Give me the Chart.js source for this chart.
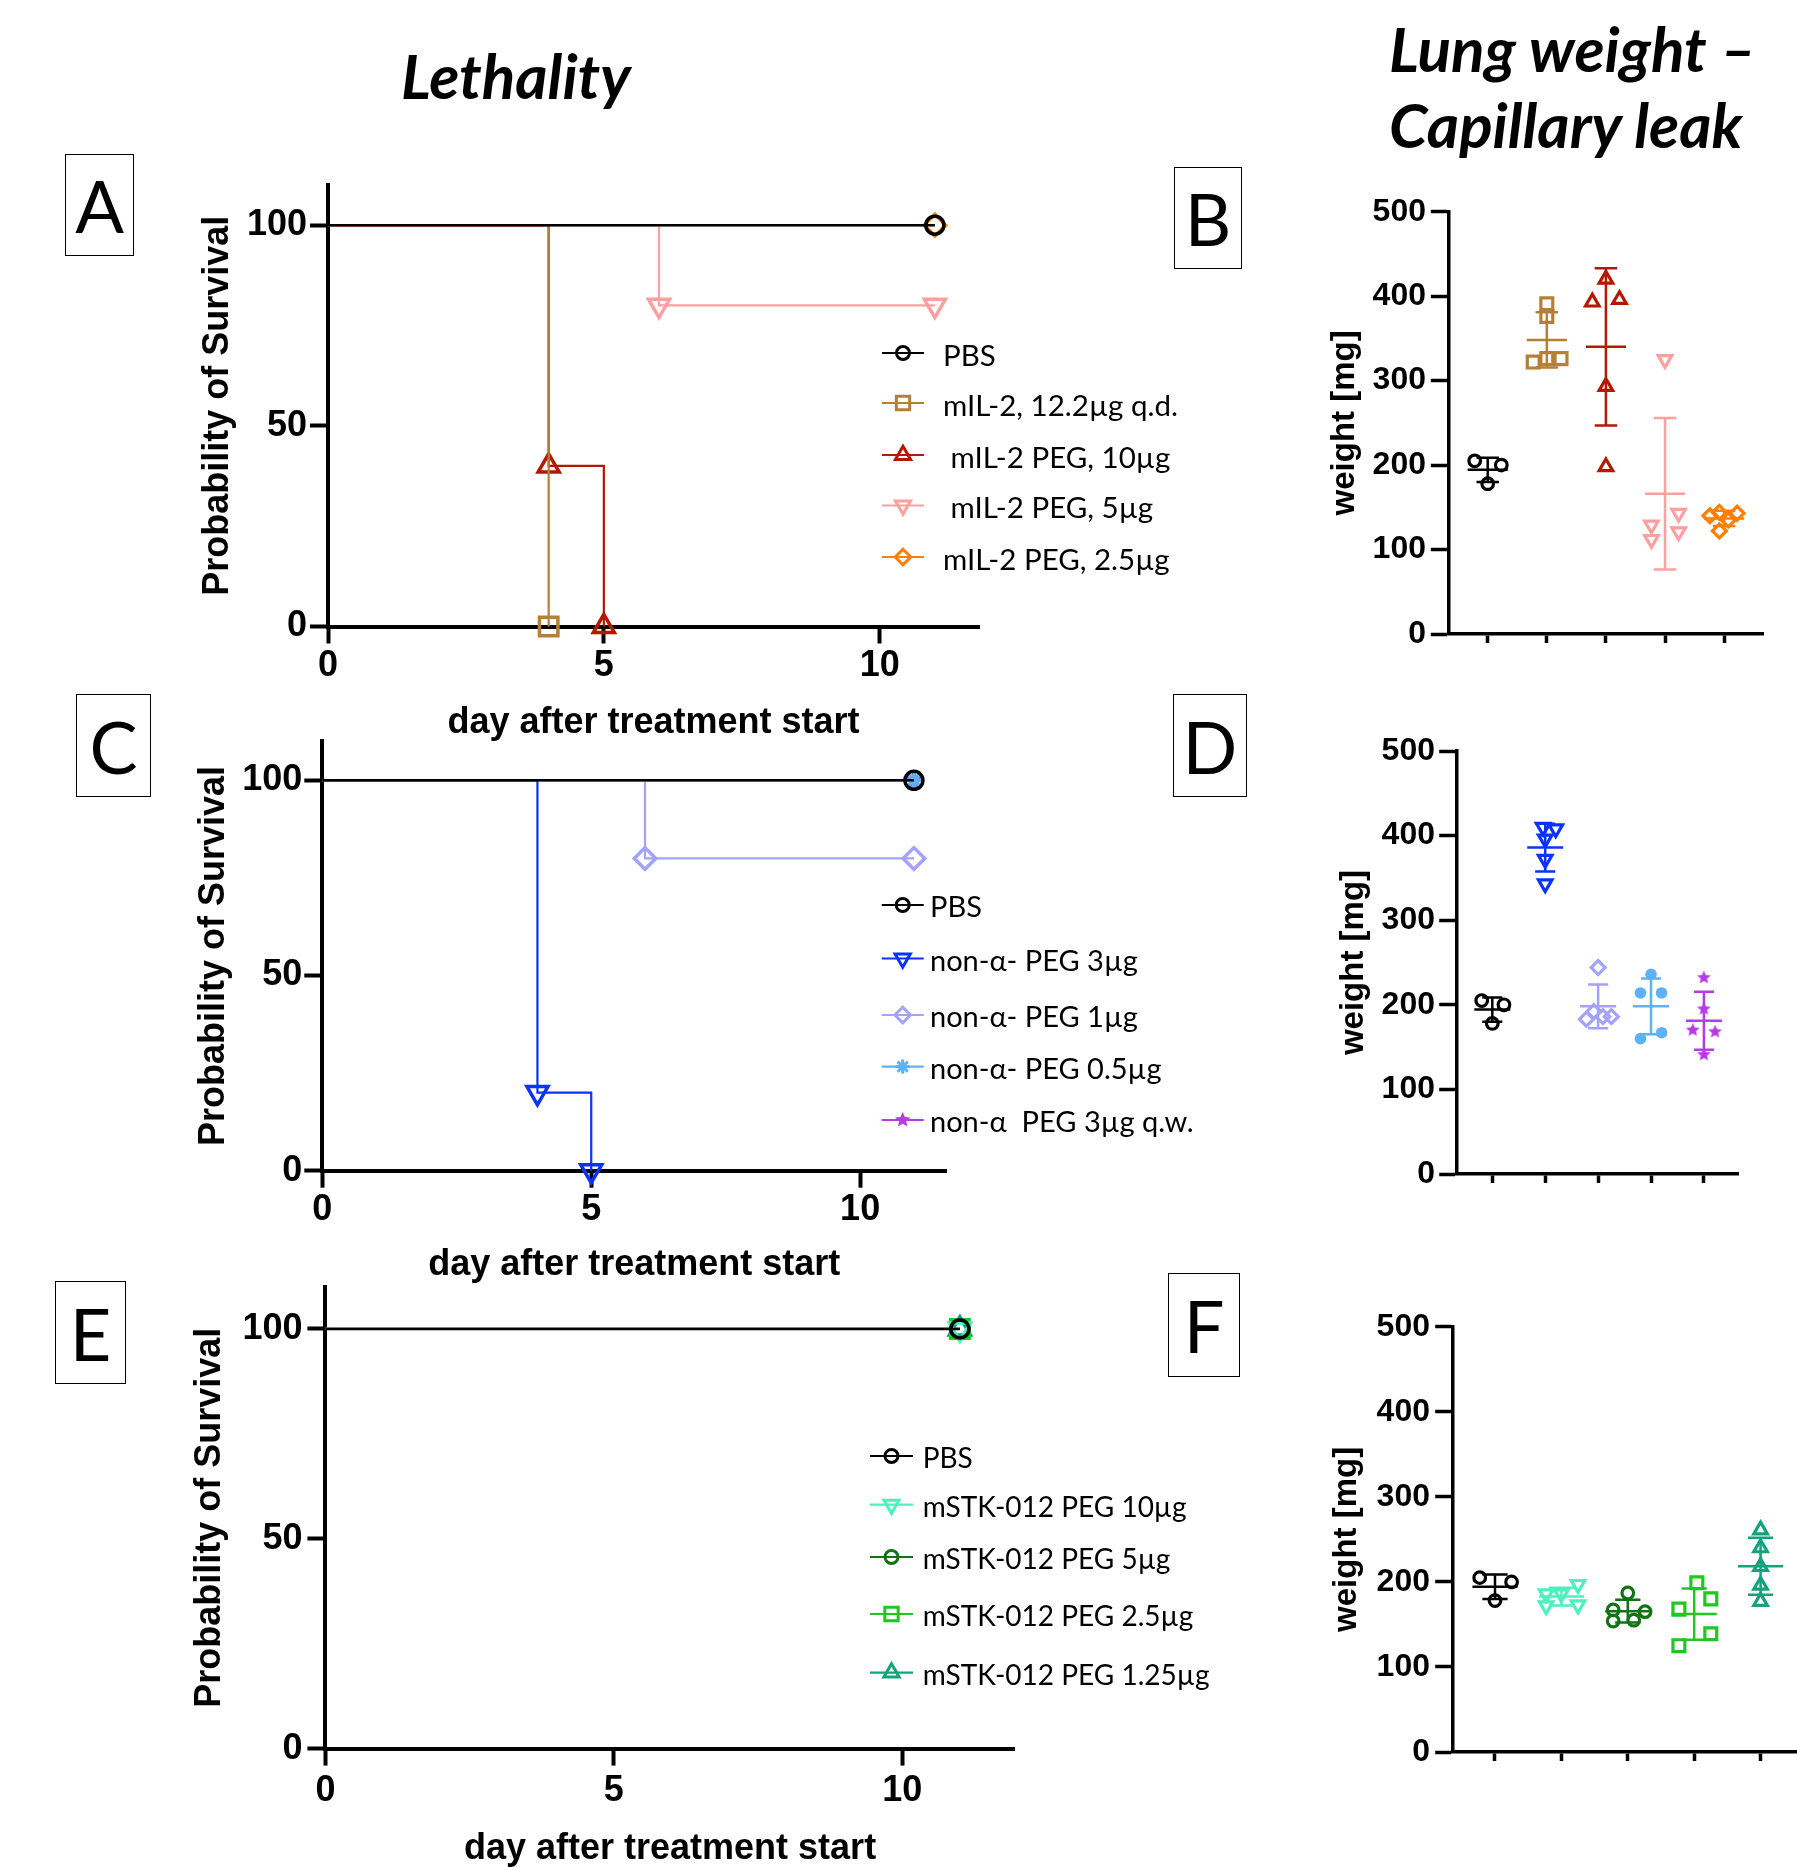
<!DOCTYPE html>
<html lang="en">
<head>
<meta charset="utf-8">
<title>Lethality / Lung weight</title>
<script src="https://cdn.jsdelivr.net/npm/chart.js@4.4.1/dist/chart.umd.min.js"></script>
<style>
  html, body { margin: 0; padding: 0; background: #fff; }
  body { position: relative; width: 1797px; height: 1867px; overflow: hidden; }
  canvas { position: absolute; }
  .tag { position: absolute; box-sizing: border-box; border: 1.5px solid #000; display: flex; align-items: center; justify-content: center; font: 400 72px Lato, sans-serif; line-height: 1; color: #000; }
  .head { position: absolute; font: italic 700 62px Lato, sans-serif; line-height: 1; white-space: nowrap; color: #000; }
</style>
</head>
<body>
<div class="head" style="left:401px; top:44px;">Lethality</div>
<div class="head" style="left:1389px; top:17px;">Lung weight –</div>
<div class="head" style="left:1389px; top:93px;">Capillary leak</div>
<div class="tag" style="left:65px; top:154px; width:69px; height:102px;">A</div>
<div class="tag" style="left:1174px; top:167px; width:68px; height:102px;">B</div>
<div class="tag" style="left:76px; top:694px; width:75px; height:103px;">C</div>
<div class="tag" style="left:1173px; top:694px; width:74px; height:103px;">D</div>
<div class="tag" style="left:55px; top:1281px; width:71px; height:103px;">E</div>
<div class="tag" style="left:1168px; top:1273px; width:72px; height:104px;">F</div>

<script>
// 生存曲線 A (日, 生存率 %)
const survA_PBS = [[0, 100], [11, 100]];
const survA_mIL2 = [[0, 100], [4, 0]];
const survA_peg10 = [[0, 100], [4, 40], [5, 0]];
const survA_peg5 = [[0, 100], [6, 80], [11, 80]];
const survA_peg25 = [[0, 100], [11, 100]];
const labelsA = ['PBS', 'mIL-2, 12.2µg q.d.', ' mIL-2 PEG, 10µg', ' mIL-2 PEG, 5µg', 'mIL-2 PEG, 2.5µg'];

// 生存曲線 C
const survC_PBS = [[0, 100], [11, 100]];
const survC_3 = [[0, 100], [4, 20], [5, 0]];
const survC_1 = [[0, 100], [6, 80], [11, 80]];
const survC_05 = [[0, 100], [11, 100]];
const survC_3qw = [[0, 100], [11, 100]];
const labelsC = ['PBS', 'non-α- PEG 3µg', 'non-α- PEG 1µg', 'non-α- PEG 0.5µg', 'non-α  PEG 3µg q.w.'];

// 生存曲線 E
const survE_PBS = [[0, 100], [11, 100]];
const survE_10 = [[0, 100], [11, 100]];
const survE_5 = [[0, 100], [11, 100]];
const survE_25 = [[0, 100], [11, 100]];
const survE_125 = [[0, 100], [11, 100]];
const labelsE = ['PBS', 'mSTK-012 PEG 10µg', 'mSTK-012 PEG 5µg', 'mSTK-012 PEG 2.5µg', 'mSTK-012 PEG 1.25µg'];

// 肺重量 [mg]
const lungB_PBS = [205, 200, 178];
const lungB_mIL2 = [391, 376, 322, 326, 326];
const lungB_peg10 = [420, 396, 393, 293, 198];
const lungB_peg5 = [325, 129, 112, 143, 121];
const lungB_peg25 = [140, 144, 143, 135, 122];

const lungD_PBS = [205, 200, 178];
const lungD_3 = [410, 408, 396, 372, 343];
const lungD_1 = [244, 183, 192, 186, 186];
const lungD_05 = [236, 214, 214, 160, 167];
const lungD_3qw = [232, 195, 170, 168, 141];

const lungF_PBS = [205, 200, 178];
const lungF_10 = [186, 186, 197, 172, 173];
const lungF_5 = [187, 167, 165, 154, 155];
const lungF_25 = [199, 180, 168, 139, 125];
const lungF_125 = [261, 240, 218, 196, 177];

// 目盛り
const survTicks = [0, 50, 100];
const dayTicks = [0, 5, 10];
const weightTicks = [0, 100, 200, 300, 400, 500];

// 点の横方向の散らし (カテゴリ単位, レイアウト用)
const spreadB = [[-0.22, 0.23, 0], [0, 0, -0.23, 0, 0.24], [0, 0.23, -0.23, 0, 0], [0, -0.23, -0.23, 0.23, 0.23], [-0.24, -0.08, 0.22, 0.07, -0.08]];
const spreadD = [[-0.2, 0.22, 0], [-0.04, 0.2, 0, 0, 0], [0, -0.22, -0.08, 0.09, 0.25], [0, -0.2, 0.2, -0.2, 0.2], [0, 0, -0.21, 0.21, 0]];
const spreadF = [[-0.23, 0.25, 0], [-0.23, 0, 0.25, -0.23, 0.25], [0, -0.22, 0.26, -0.22, 0.09], [0.04, 0.25, -0.23, 0.25, -0.23], [0, 0, 0, 0, 0]];

// スタイル
const styleA = [
    { color: '#000000', marker: 'circle' },
    { color: '#b38036', marker: 'rect' },
    { color: '#b21a00', marker: 'triangle' },
    { color: '#ff9f9f', marker: 'triangleDown' },
    { color: '#ff7f00', marker: 'rectRot' }
];
const styleC = [
    { color: '#000000', marker: 'circle' },
    { color: '#0a33ff', marker: 'triangleDown' },
    { color: '#a3a3ff', marker: 'rectRot' },
    { color: '#5fb1f5', marker: 'asterisk', filled: true },
    { color: '#b43ce3', marker: 'star5', filled: true }
];
const styleD = [
    { color: '#000000', marker: 'circle' },
    { color: '#0a33ff', marker: 'triangleDown' },
    { color: '#a3a3ff', marker: 'rectRot' },
    { color: '#5fb1f5', marker: 'circle', filled: true },
    { color: '#b43ce3', marker: 'star5', filled: true }
];
const styleE = [
    { color: '#000000', marker: 'circle' },
    { color: '#4ef0bd', marker: 'triangleDown' },
    { color: '#117311', marker: 'circle' },
    { color: '#1ec81e', marker: 'rect' },
    { color: '#12a37c', marker: 'triangle' }
];

const sansBold = "'Liberation Sans', Arial, sans-serif";
const kmFont = { family: sansBold, weight: 'bold', size: 36, lineHeight: 1.2 };
const wTickFont = { family: sansBold, weight: 'bold', size: 32, lineHeight: 1.2 };
const wTitleFont = { family: sansBold, weight: 'bold', size: 33, lineHeight: 1.2 };

const radiusFactor = { circle: 1, rect: 1.45, triangle: 1.35, triangleDown: 1.35, rectRot: 1.2, asterisk: 1.1, star5: 1.25 };

// マーカー描画 (凡例・星形画像用)
function drawMarker(ctx, marker, x, y, r, color, filled, lw) {
    ctx.save();
    ctx.strokeStyle = color;
    ctx.fillStyle = color;
    ctx.lineWidth = lw;
    ctx.lineJoin = 'miter';
    ctx.beginPath();
    if (marker === 'circle') {
        ctx.arc(x, y, r, 0, Math.PI * 2);
    } else if (marker === 'rect') {
        const s = r * Math.SQRT1_2;
        ctx.rect(x - s, y - s, 2 * s, 2 * s);
    } else if (marker === 'triangle' || marker === 'triangleDown') {
        const d = marker === 'triangle' ? 1 : -1;
        ctx.moveTo(x, y - d * r);
        ctx.lineTo(x + r * 0.866, y + d * r * 0.5);
        ctx.lineTo(x - r * 0.866, y + d * r * 0.5);
        ctx.closePath();
    } else if (marker === 'rectRot') {
        ctx.moveTo(x, y - r);
        ctx.lineTo(x + r, y);
        ctx.lineTo(x, y + r);
        ctx.lineTo(x - r, y);
        ctx.closePath();
    } else if (marker === 'asterisk') {
        for (let k = 0; k < 4; k++) {
            const a = k * Math.PI / 4;
            ctx.moveTo(x - Math.cos(a) * r, y - Math.sin(a) * r);
            ctx.lineTo(x + Math.cos(a) * r, y + Math.sin(a) * r);
        }
        ctx.lineWidth = Math.max(lw, 3);
        ctx.stroke();
        ctx.restore();
        return;
    } else if (marker === 'star5') {
        for (let k = 0; k < 10; k++) {
            const a = -Math.PI / 2 + k * Math.PI / 5;
            const rr = k % 2 === 0 ? r : r * 0.45;
            const px = x + Math.cos(a) * rr, py = y + Math.sin(a) * rr;
            if (k === 0) ctx.moveTo(px, py); else ctx.lineTo(px, py);
        }
        ctx.closePath();
    }
    if (filled) ctx.fill(); else ctx.stroke();
    ctx.restore();
}

function starImage(r, color) {
    const c = document.createElement('canvas');
    const s = Math.ceil(2 * r + 4);
    c.width = s;
    c.height = s;
    drawMarker(c.getContext('2d'), 'star5', s / 2, s / 2, r, color, true, 1);
    return c;
}

function pointStyleOf(st, r) {
    if (st.marker === 'triangleDown') return 'triangle';
    if (st.marker === 'asterisk') return 'star';
    if (st.marker === 'star5') return starImage(r, st.color);
    return st.marker;
}

function makeCanvas(id, geo) {
    const c = document.createElement('canvas');
    c.id = id;
    c.width = geo.width;
    c.height = geo.height;
    c.style.left = geo.left + 'px';
    c.style.top = geo.top + 'px';
    document.body.appendChild(c);
    return c;
}

// 生存曲線の凡例 (プロット内に描画)
const kmLegend = {
    id: 'kmLegend',
    afterDraw(chart, args, opts) {
        const ctx = chart.ctx;
        chart.data.datasets.forEach((ds, i) => {
            const y = opts.rows[i];
            ctx.save();
            ctx.strokeStyle = ds.borderColor;
            ctx.lineWidth = 2.2;
            ctx.beginPath();
            ctx.moveTo(opts.x - opts.half, y);
            ctx.lineTo(opts.x + opts.half, y);
            ctx.stroke();
            drawMarker(ctx, ds.marker, opts.x, y, 6.5 * radiusFactor[ds.marker], ds.borderColor, ds.filled, 3);
            ctx.fillStyle = '#000';
            ctx.font = opts.font;
            ctx.textBaseline = 'middle';
            ctx.fillText(ds.label, opts.textX, y + 3);
            ctx.restore();
        });
    }
};

// 平均 ± SD
const meanSd = {
    id: 'meanSd',
    afterDatasetsDraw(chart) {
        const { ctx, scales: { x, y } } = chart;
        chart.data.datasets.forEach((ds, g) => {
            const v = ds.data.map(p => p.y);
            const n = v.length;
            const m = v.reduce((a, b) => a + b, 0) / n;
            const sd = Math.sqrt(v.reduce((a, b) => a + (b - m) ** 2, 0) / (n - 1));
            const px = x.getPixelForValue(g);
            const hw = x.getPixelForValue(g + 0.34) - px;
            const cw = x.getPixelForValue(g + 0.19) - px;
            const yT = y.getPixelForValue(m + sd), yB = y.getPixelForValue(m - sd), yM = y.getPixelForValue(m);
            ctx.save();
            ctx.strokeStyle = ds.borderColor;
            ctx.lineWidth = 2.5;
            ctx.beginPath();
            ctx.moveTo(px - hw, yM); ctx.lineTo(px + hw, yM);
            ctx.moveTo(px, yT); ctx.lineTo(px, yB);
            ctx.moveTo(px - cw, yT); ctx.lineTo(px + cw, yT);
            ctx.moveTo(px - cw, yB); ctx.lineTo(px + cw, yB);
            ctx.stroke();
            ctx.restore();
        });
    }
};

function kmChart(id, series, labels, styles, geo) {
    const r0 = 9;
    return new Chart(makeCanvas(id, geo), {
        type: 'line',
        data: {
            datasets: series.map((pts, i) => {
                const st = styles[i];
                const r = r0 * radiusFactor[st.marker];
                return {
                    label: labels[i],
                    data: pts.map(([x, y]) => ({ x, y })),
                    borderColor: st.color,
                    backgroundColor: st.color,
                    borderWidth: i === 0 ? 2.5 : 2.2,
                    stepped: 'before',
                    fill: false,
                    pointStyle: pointStyleOf(st, r),
                    pointRotation: st.marker === 'triangleDown' ? 180 : 0,
                    pointRadius: pts.map((p, j) => j === 0 ? 0 : r),
                    pointBorderColor: st.color,
                    pointBackgroundColor: st.filled ? st.color : 'rgba(0,0,0,0)',
                    pointBorderWidth: 3.5,
                    clip: false,
                    marker: st.marker,
                    filled: st.filled
                };
            })
        },
        options: {
            animation: false,
            responsive: false,
            events: [],
            layout: { padding: { left: 0, top: geo.padTop, right: geo.padRight, bottom: 0 } },
            plugins: {
                legend: { display: false },
                tooltip: { enabled: false },
                kmLegend: geo.legend
            },
            scales: {
                x: {
                    type: 'linear',
                    min: 0,
                    max: geo.xMax,
                    afterBuildTicks: s => { s.ticks = dayTicks.map(v => ({ value: v })); },
                    afterFit: s => { s.height = geo.xH; },
                    grid: { drawOnChartArea: false, tickLength: 17, tickWidth: 4, tickColor: '#000' },
                    border: { color: '#000', width: 4 },
                    ticks: { color: '#000', font: kmFont, padding: geo.xTickPad, maxRotation: 0, autoSkip: false },
                    title: { display: true, text: 'day after treatment start', color: '#000', font: kmFont, padding: { top: 0, bottom: geo.xTitlePad } }
                },
                y: {
                    min: 0,
                    max: 110,
                    afterBuildTicks: s => { s.ticks = survTicks.map(v => ({ value: v })); },
                    afterFit: s => { s.width = geo.yW; },
                    grid: { drawOnChartArea: false, tickLength: 18, tickWidth: 4, tickColor: '#000' },
                    border: { color: '#000', width: 4 },
                    ticks: { color: '#000', font: kmFont, padding: geo.yTickPad, autoSkip: false },
                    title: { display: true, text: 'Probability of Survival', color: '#000', font: kmFont, padding: { top: geo.yTitlePad, bottom: 0 } }
                }
            }
        },
        plugins: [kmLegend]
    });
}

function weightChart(id, groups, spreads, styles, geo) {
    const r0 = 5.8;
    return new Chart(makeCanvas(id, geo), {
        type: 'scatter',
        data: {
            datasets: groups.map((vals, g) => {
                const st = styles[g];
                const r = r0 * radiusFactor[st.marker];
                return {
                    data: vals.map((v, i) => ({ x: g + spreads[g][i], y: v })),
                    borderColor: st.color,
                    backgroundColor: st.color,
                    pointStyle: pointStyleOf(st, r),
                    pointRotation: st.marker === 'triangleDown' ? 180 : 0,
                    pointRadius: r,
                    pointBorderColor: st.color,
                    pointBackgroundColor: st.filled ? st.color : 'rgba(0,0,0,0)',
                    pointBorderWidth: st.filled ? 0 : 3.2,
                    clip: false
                };
            })
        },
        options: {
            animation: false,
            responsive: false,
            events: [],
            layout: { padding: { left: 0, top: geo.padTop, right: geo.padRight, bottom: 0 } },
            plugins: { legend: { display: false }, tooltip: { enabled: false } },
            scales: {
                x: {
                    type: 'linear',
                    min: geo.xMin,
                    max: geo.xMax,
                    afterBuildTicks: s => { s.ticks = groups.map((_, g) => ({ value: g })); },
                    afterFit: s => { s.height = 25; },
                    grid: { drawOnChartArea: false, tickLength: 9, tickWidth: 3.5, tickColor: '#000' },
                    border: { color: '#000', width: 3.5 },
                    ticks: { display: false }
                },
                y: {
                    min: 0,
                    max: 500,
                    afterBuildTicks: s => { s.ticks = weightTicks.map(v => ({ value: v })); },
                    afterFit: s => { s.width = geo.yW; },
                    grid: { drawOnChartArea: false, tickLength: 17.5, tickWidth: 3.5, tickColor: '#000' },
                    border: { color: '#000', width: 3.5 },
                    ticks: { color: '#000', font: wTickFont, padding: geo.yTickPad, autoSkip: false },
                    title: { display: true, text: 'weight [mg]', color: '#000', font: wTitleFont, padding: { top: geo.yTitlePad, bottom: 0 } }
                }
            }
        },
        plugins: [meanSd]
    });
}

kmChart('chartA', [survA_PBS, survA_mIL2, survA_peg10, survA_peg5, survA_peg25], labelsA, styleA, {
    left: 150, top: 150, width: 1060, height: 620,
    yW: 178, padTop: 35, padRight: 231, xH: 143.5, xMax: 11.8,
    yTitlePad: 46.4, yTickPad: 3, xTickPad: 1, xTitlePad: 25.4,
    legend: { x: 753, half: 21, textX: 793, rows: [203, 253, 305, 355.5, 407], font: '29.5px Lato, sans-serif' }
});

kmChart('chartC', [survC_PBS, survC_3, survC_1, survC_05, survC_3qw], labelsC, styleC, {
    left: 150, top: 700, width: 1060, height: 610,
    yW: 172.3, padTop: 41.3, padRight: 263.8, xH: 139.3, xMax: 11.6,
    yTitlePad: 42.8, yTickPad: 2, xTickPad: 1, xTitlePad: 23.4,
    legend: { x: 752.7, half: 21, textX: 780, rows: [205, 258.5, 315, 366.7, 420], font: '29px Lato, sans-serif' }
});

kmChart('chartE', [survE_PBS, survE_10, survE_5, survE_25, survE_125], labelsE, styleE, {
    left: 150, top: 1250, width: 1120, height: 640,
    yW: 175.4, padTop: 37, padRight: 255.3, xH: 141.4, xMax: 11.95,
    yTitlePad: 38, yTickPad: 4.9, xTickPad: 3.8, xTitlePad: 18.9,
    legend: { x: 741.5, half: 21.5, textX: 772.7, rows: [206, 254.7, 307, 364, 422.6], font: '28px Lato, sans-serif' }
});

weightChart('chartB', [lungB_PBS, lungB_mIL2, lungB_peg10, lungB_peg5, lungB_peg25], spreadB, styleA, {
    left: 1260, top: 180, width: 537, height: 479,
    yW: 188.3, padTop: 31.7, padRight: 33.7, xMin: -0.667, xMax: 4.663,
    yTitlePad: 65.2, yTickPad: 4.8
});

weightChart('chartD', [lungD_PBS, lungD_3, lungD_1, lungD_05, lungD_3qw], spreadD, styleD, {
    left: 1260, top: 720, width: 537, height: 479,
    yW: 196.7, padTop: 31, padRight: 58.7, xMin: -0.673, xMax: 4.65,
    yTitlePad: 74.2, yTickPad: 4.2
});

weightChart('chartF', [lungF_PBS, lungF_10, lungF_5, lungF_25, lungF_125], spreadF, styleE, {
    left: 1260, top: 1290, width: 560, height: 487,
    yW: 192.7, padTop: 36.7, padRight: 15.6, xMin: -0.637, xMax: 4.66,
    yTitlePad: 66.9, yTickPad: 5.2
});
</script>
</body>
</html>
